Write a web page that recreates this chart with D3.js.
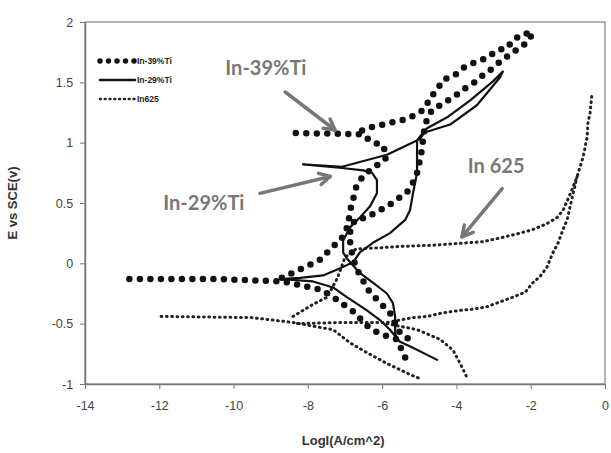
<!DOCTYPE html>
<html>
<head>
<meta charset="utf-8">
<script src="https://cdn.jsdelivr.net/npm/d3@7"></script>
<style>
  body { margin: 0; background: #fff; }
  text { font-family: "Liberation Sans", Arial, sans-serif; }
</style>
</head>
<body>
<div id="chart"></div>
<script>
// values: [log i (A/cm^2), E vs SCE (V)]
const ti39Cathodic = [[-5.38,-0.78],[-5.6,-0.63],[-6.0,-0.59],[-6.33,-0.54],[-6.65,-0.44],[-6.81,-0.39],[-7.05,-0.34],[-7.27,-0.29],[-7.62,-0.22],[-7.94,-0.2],[-8.21,-0.18],[-8.67,-0.15],[-10.5,-0.13],[-13.0,-0.13]];
const ti39Anodic = [[-8.7,-0.12],[-8.21,-0.05],[-7.86,0.0],[-7.67,0.03],[-7.48,0.09],[-7.32,0.14],[-7.13,0.19],[-7.0,0.25],[-6.92,0.32],[-6.86,0.44],[-6.78,0.53],[-6.73,0.61],[-6.6,0.69],[-6.33,0.77],[-6.06,0.83],[-5.87,0.88],[-5.98,0.98],[-6.25,1.0],[-6.54,1.07],[-8.35,1.08]];
const ti39Upper = [[-6.54,1.1],[-6.27,1.13],[-5.97,1.15],[-5.7,1.17],[-5.43,1.19],[-5.25,1.21],[-4.98,1.25],[-4.79,1.31],[-4.76,1.35],[-4.52,1.44],[-4.36,1.52],[-4.04,1.56],[-3.82,1.62],[-3.55,1.66],[-3.36,1.68],[-3.15,1.71],[-2.88,1.77],[-2.64,1.78],[-2.48,1.85],[-2.21,1.9],[-1.94,1.91],[-2.1,1.83],[-2.34,1.78],[-2.56,1.73],[-2.83,1.67],[-3.01,1.62],[-3.28,1.56],[-3.55,1.49],[-3.77,1.45],[-3.98,1.4],[-4.23,1.35],[-4.44,1.31],[-4.66,1.27],[-4.85,1.15],[-4.9,1.02],[-4.93,0.94],[-4.98,0.86],[-5.06,0.75],[-5.17,0.67],[-5.33,0.59],[-5.6,0.53],[-5.87,0.47],[-6.14,0.43],[-6.41,0.38],[-6.73,0.36],[-6.86,0.28],[-6.86,0.15],[-6.78,0.04],[-6.68,-0.05],[-6.38,-0.22],[-6.14,-0.3],[-5.92,-0.37],[-5.71,-0.44],[-5.6,-0.55],[-5.33,-0.62],[-5.06,-0.65]];

const ti29 = [[-4.52,-0.8],[-5.17,-0.7],[-5.52,-0.65],[-5.79,-0.55],[-6.06,-0.47],[-6.41,-0.39],[-6.95,-0.28],[-7.32,-0.2],[-7.86,-0.15],[-8.75,-0.13],[-8.21,-0.12],[-7.59,-0.1],[-7.13,-0.04],[-6.78,0.01],[-6.6,0.09],[-6.25,0.17],[-5.79,0.25],[-5.38,0.36],[-5.25,0.44],[-5.17,0.58],[-5.06,0.75],[-5.06,1.02],[-4.9,1.08],[-4.17,1.15],[-3.45,1.31],[-2.83,1.54],[-2.75,1.59],[-3.01,1.51],[-3.63,1.35],[-4.25,1.21],[-4.79,1.12],[-4.98,1.03],[-5.87,0.9],[-7.08,0.8],[-8.13,0.82],[-7.08,0.79],[-6.51,0.77],[-6.27,0.75],[-6.14,0.69],[-6.14,0.58],[-6.33,0.47],[-6.6,0.38],[-6.86,0.3],[-7.05,0.19],[-7.05,0.09],[-6.95,0.04],[-6.6,-0.08],[-6.25,-0.16],[-5.87,-0.25],[-5.71,-0.33],[-5.65,-0.44],[-5.65,-0.58],[-5.6,-0.62]];

const in625Fwd = [[-5.03,-0.95],[-5.33,-0.91],[-5.87,-0.83],[-6.41,-0.74],[-6.86,-0.66],[-7.32,-0.55],[-8.4,-0.49],[-9.5,-0.45],[-12.0,-0.44]];
const in625Anodic = [[-8.4,-0.44],[-7.86,-0.34],[-7.48,-0.28],[-7.2,-0.12],[-7.0,0.05],[-6.7,0.12],[-6.0,0.13],[-5.52,0.14],[-4.63,0.15],[-4.17,0.16],[-3.71,0.17],[-3.28,0.18],[-2.83,0.21],[-2.29,0.25],[-1.94,0.28],[-1.56,0.33],[-1.29,0.38],[-1.13,0.44],[-1.0,0.53],[-0.89,0.61],[-0.75,0.72],[-0.67,0.8],[-0.59,0.88],[-0.48,1.05],[-0.46,1.16],[-0.4,1.25],[-0.35,1.41]];
const in625Rev = [[-0.75,0.72],[-0.94,0.47],[-1.02,0.36],[-1.13,0.28],[-1.26,0.17],[-1.4,0.09],[-1.56,-0.03],[-1.75,-0.11],[-1.94,-0.16],[-2.15,-0.24],[-2.48,-0.28],[-2.83,-0.32],[-3.18,-0.36],[-3.55,-0.38],[-3.9,-0.39],[-4.36,-0.41],[-4.79,-0.44],[-5.17,-0.45],[-5.52,-0.47],[-5.87,-0.49],[-7.0,-0.49],[-8.4,-0.5]];
const in625Tail = [[-5.87,-0.5],[-5.06,-0.55],[-4.44,-0.63],[-4.09,-0.72],[-3.9,-0.83],[-3.71,-0.95]];

const xTicks = [-14, -12, -10, -8, -6, -4, -2, 0];
const yTicks = [-1, -0.5, 0, 0.5, 1, 1.5, 2];
const seriesNames = ["In-39%Ti", "In-29%Ti", "In625"];

// callouts: label position and arrow, in data units
const notes = [
  { text: "In-39%Ti", x: -9.13, y: 1.62, from: [-8.61, 1.42], to: [-7.27, 1.105] },
  { text: "In-29%Ti", x: -10.8, y: 0.5, from: [-9.29, 0.58], to: [-7.4, 0.72] },
  { text: "In 625", x: -2.93, y: 0.81, from: [-2.77, 0.62], to: [-3.85, 0.22] }
];

const width = 611, height = 453;
const svg = d3.select("#chart").append("svg")
  .attr("width", width)
  .attr("height", height);

const x = d3.scaleLinear().domain([-14, 0]).range([85, 605]);
const y = d3.scaleLinear().domain([-1, 2]).range([384, 22]);

// frame
svg.append("rect")
  .attr("x", x(-14)).attr("y", y(2))
  .attr("width", x(0) - x(-14)).attr("height", y(-1) - y(2))
  .attr("fill", "none").attr("stroke", "#9a9a9a").attr("stroke-width", 1.5);

let gx = svg.append("g")
  .attr("transform", "translate(0," + y(-1) + ")")
  .call(d3.axisBottom(x).tickValues(xTicks).tickSize(5).tickSizeOuter(0).tickFormat(d => String(d)));
let gy = svg.append("g")
  .attr("transform", "translate(" + x(-14) + ",0)")
  .call(d3.axisLeft(y).tickValues(yTicks).tickSize(5).tickSizeOuter(0).tickFormat(d => String(d)));
[gx, gy].forEach(g => {
  g.select(".domain").attr("stroke", "#777").attr("stroke-width", 1.5);
  g.selectAll(".tick line").attr("stroke", "#777");
  g.selectAll(".tick text").attr("fill", "#444").style("font-size", "12.5px")
    .style("font-family", "'Liberation Sans', Arial, sans-serif");
});
gx.selectAll(".tick text").attr("dy", "1.45em");
gy.selectAll(".tick text").attr("dx", "-0.3em");

svg.append("text")
  .attr("transform", "translate(17," + y(0.5) + ") rotate(-90)")
  .attr("text-anchor", "middle")
  .style("font-size", "13px").style("font-weight", "bold").attr("fill", "#333")
  .text("E vs SCE(v)");
svg.append("text")
  .attr("x", x(-7.05)).attr("y", 445)
  .attr("text-anchor", "middle")
  .style("font-size", "13px").style("font-weight", "bold").attr("fill", "#333")
  .text("LogI(A/cm^2)");

const line = d3.line().x(d => x(d[0])).y(d => y(d[1]));

const bigDots = { stroke: "#111", width: 6.5, dash: "0 10.5" };
const solid = { stroke: "#111", width: 2.2, dash: null };
const smallDots = { stroke: "#222", width: 3, dash: "0.8 4.5" };

function draw(data, st) {
  svg.append("path")
    .datum(data)
    .attr("d", line)
    .attr("fill", "none")
    .attr("stroke", st.stroke)
    .attr("stroke-width", st.width)
    .attr("stroke-linecap", "round")
    .attr("stroke-linejoin", "round")
    .attr("stroke-dasharray", st.dash);
}

[in625Fwd, in625Anodic, in625Rev, in625Tail].forEach(d => draw(d, smallDots));
draw(ti29, solid);
[ti39Cathodic, ti39Anodic, ti39Upper].forEach(d => draw(d, bigDots));

// legend
const legendStyles = [bigDots, solid, smallDots];
let legend = svg.append("g").attr("transform", "translate(98,61)");
seriesNames.forEach((name, i) => {
  let st = legendStyles[i];
  legend.append("line")
    .attr("x1", 2).attr("x2", 37)
    .attr("y1", i * 19).attr("y2", i * 19)
    .attr("stroke", st.stroke)
    .attr("stroke-width", i == 0 ? 5.5 : 2.6)
    .attr("stroke-linecap", "round")
    .attr("stroke-dasharray", i == 0 ? "0 8.5" : (i == 2 ? "0.8 4" : null));
  legend.append("text")
    .attr("x", 39).attr("y", i * 19 + 3)
    .style("font-size", "8.5px").style("font-weight", "bold").attr("fill", "#222")
    .text(name);
});

// callouts
notes.forEach(n => {
  svg.append("text")
    .attr("x", x(n.x)).attr("y", y(n.y))
    .attr("text-anchor", "middle").attr("dy", "0.35em")
    .style("font-family", "Lato, 'Open Sans', sans-serif")
    .style("font-size", "20px").style("font-weight", "bold")
    .attr("fill", "#777")
    .text(n.text);
  let x1 = x(n.from[0]), y1 = y(n.from[1]), x2 = x(n.to[0]), y2 = y(n.to[1]);
  svg.append("line")
    .attr("x1", x1).attr("y1", y1).attr("x2", x2).attr("y2", y2)
    .attr("stroke", "#777").attr("stroke-width", 3.5).attr("stroke-linecap", "round");
  let a = Math.atan2(y2 - y1, x2 - x1), L = 12, w = 0.5;
  svg.append("path")
    .attr("d", "M" + (x2 - L * Math.cos(a - w)) + "," + (y2 - L * Math.sin(a - w)) +
      "L" + x2 + "," + y2 +
      "L" + (x2 - L * Math.cos(a + w)) + "," + (y2 - L * Math.sin(a + w)))
    .attr("fill", "none").attr("stroke", "#777").attr("stroke-width", 3.5)
    .attr("stroke-linecap", "round").attr("stroke-linejoin", "round");
});
</script>
</body>
</html>
